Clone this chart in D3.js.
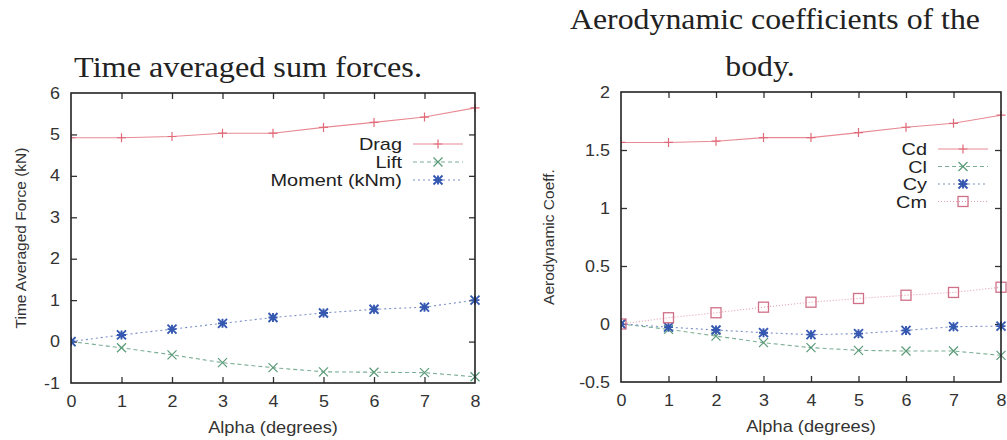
<!DOCTYPE html>
<html><head><meta charset="utf-8">
<script src="https://cdn.jsdelivr.net/npm/d3@7"></script>
<style>
html,body{margin:0;padding:0;background:#fff;}
svg{display:block;}
</style></head>
<body>
<svg id="c" width="1007" height="440"></svg>
<script>
// ---- data ----
const alpha = [0,1,2,3,4,5,6,7,8];
// Left chart: time averaged sum forces (kN)
const drag   = [4.92,4.92,4.95,5.03,5.03,5.17,5.29,5.42,5.64];
const lift   = [0,-0.15,-0.32,-0.51,-0.63,-0.73,-0.74,-0.75,-0.85];
const moment = [0,0.16,0.30,0.44,0.58,0.69,0.78,0.83,1.0];
// Right chart: aerodynamic coefficients
const cd = [1.565,1.565,1.576,1.607,1.607,1.65,1.696,1.73,1.80];
const cl = [0,-0.046,-0.104,-0.161,-0.204,-0.227,-0.233,-0.233,-0.27];
const cy = [0,-0.027,-0.052,-0.075,-0.092,-0.083,-0.055,-0.023,-0.018];
const cm = [0,0.054,0.097,0.145,0.188,0.22,0.248,0.272,0.317];

const xTicks = [0,1,2,3,4,5,6,7,8];
const leftYTicks = [-1,0,1,2,3,4,5,6];
const rightYTicks = [-0.5,0,0.5,1,1.5,2];

const svg = d3.select("#c");
const SANS = "'Liberation Sans', Arial, sans-serif";
const SERIF = "'Liberation Serif', 'DejaVu Serif', serif";
const fmtNum = d => String(d); // plain hyphen-minus as in the reference

function marker(g, type, x, y, color){
  const s = 4.5;
  if(type==="plus"){
    g.append("path").attr("d",`M${x-s},${y}H${x+s}M${x},${y-s}V${y+s}`).attr("stroke",color).attr("stroke-width",1.2).attr("fill","none");
  } else if(type==="cross"){
    g.append("path").attr("d",`M${x-s},${y-s}L${x+s},${y+s}M${x-s},${y+s}L${x+s},${y-s}`).attr("stroke",color).attr("stroke-width",1.2).attr("fill","none");
  } else if(type==="star"){
    g.append("path").attr("d",`M${x-s},${y}H${x+s}M${x},${y-s}V${y+s}M${x-s},${y-s}L${x+s},${y+s}M${x-s},${y+s}L${x+s},${y-s}`).attr("stroke",color).attr("stroke-width",1.9).attr("fill","none");
  } else if(type==="square"){
    g.append("rect").attr("x",x-s-0.5).attr("y",y-s-0.5).attr("width",2*s+1).attr("height",2*s+1).attr("stroke",color).attr("stroke-width",1.3).attr("fill","none");
  }
}

function stretchedText(g, x, y, txt, size, sx, anchor, fam, fill){
  return g.append("text").attr("transform",`translate(${x},${y}) scale(${sx},1)`)
    .attr("text-anchor",anchor).attr("font-family",fam).attr("font-size",size).attr("fill",fill).text(txt);
}

function chart(opt){
  const {x0,x1,y0,y1,ydom,yticks,series,legendX,legendY,legendDy,ylabel,ylabelX} = opt;
  const x = d3.scaleLinear().domain([0,8]).range([x0,x1]);
  const y = d3.scaleLinear().domain(ydom).range([y1,y0]);
  const g = svg.append("g");
  const clipId = "clip"+x0;
  svg.append("clipPath").attr("id",clipId).append("rect").attr("x",x0).attr("y",y0-6).attr("width",x1-x0+6).attr("height",y1-y0+12);

  const tl = 6;
  const axB = d3.axisBottom(x).tickValues(xTicks).tickSize(tl).tickFormat(fmtNum);
  const axL = d3.axisLeft(y).tickValues(yticks).tickSize(tl).tickFormat(fmtNum);
  const gb = g.append("g").attr("transform",`translate(0,${y1})`).call(axB);
  gb.selectAll(".tick line").attr("y2",-tl).attr("stroke","#333").attr("stroke-width",1.3);
  gb.selectAll(".tick text").attr("dy",null).attr("y",0).attr("transform","translate(0,24) scale(1.12,1)")
    .attr("font-family",SANS).attr("font-size",16).attr("fill","#333");
  const gt = g.append("g").attr("transform",`translate(0,${y0})`).call(d3.axisTop(x).tickValues(xTicks).tickSize(tl).tickFormat(""));
  gt.selectAll(".tick line").attr("y2",tl).attr("stroke","#333").attr("stroke-width",1.3);
  const gl = g.append("g").attr("transform",`translate(${x0},0)`).call(axL);
  gl.selectAll(".tick line").attr("x2",tl).attr("stroke","#333").attr("stroke-width",1.3);
  gl.selectAll(".tick text").attr("x",0).attr("transform","translate(-11,0) scale(1.12,1)")
    .attr("font-family",SANS).attr("font-size",16).attr("fill","#333");
  const gr = g.append("g").attr("transform",`translate(${x1},0)`).call(d3.axisRight(y).tickValues(yticks).tickSize(tl).tickFormat(""));
  gr.selectAll(".tick line").attr("x2",-tl).attr("stroke","#333").attr("stroke-width",1.3);
  [gb,gt,gl,gr].forEach(a=>a.select(".domain").remove());
  [gb,gt].forEach(a=>a.selectAll(".tick").filter(d=>d===0||d===8).select("line").remove());
  [gl,gr].forEach(a=>a.selectAll(".tick").filter(d=>d===ydom[0]||d===ydom[1]).select("line").remove());

  const plot = g.append("g").attr("clip-path",`url(#${clipId})`);
  series.forEach((s,i)=>{
    const line = d3.line().x((d,j)=>x(alpha[j])).y(d=>y(d));
    plot.append("path").datum(s.values).attr("d",line).attr("fill","none")
      .attr("stroke",s.lineColor).attr("stroke-width",1.1).attr("stroke-dasharray",s.dash);
    s.values.forEach((v,j)=>marker(plot,s.marker,x(alpha[j]),y(v),s.color));
    const ly = legendY + i*legendDy;
    stretchedText(g, legendX, ly+6, s.name, 17, 1.17, "end", SANS, "#222");
    g.append("line").attr("x1",legendX+11).attr("x2",legendX+61).attr("y1",ly).attr("y2",ly)
      .attr("stroke",s.lineColor).attr("stroke-width",1.1).attr("stroke-dasharray",s.dash);
    marker(g,s.marker,legendX+36,ly,s.color);
  });

  g.append("rect").attr("x",x0).attr("y",y0).attr("width",x1-x0).attr("height",y1-y0)
    .attr("fill","none").attr("stroke","#222").attr("stroke-width",1.6);

  stretchedText(g, (x0+x1)/2, y1+50, "Alpha (degrees)", 16, 1.14, "middle", SANS, "#333");
  g.append("text").attr("transform",`translate(${ylabelX},${(y0+y1)/2}) rotate(-90)`).attr("text-anchor","middle")
    .attr("font-family",SANS).attr("font-size",15.5).attr("fill","#333").text(ylabel);
}

chart({
  x0:71, x1:475, y0:93, y1:383, ydom:[-1,6], yticks:leftYTicks,
  legendX:402, legendY:144, legendDy:18, ylabel:"Time Averaged Force (kN)", ylabelX:26,
  series:[
    {name:"Drag", values:drag, marker:"plus", color:"#e06a78", lineColor:"#e88a94", dash:null},
    {name:"Lift", values:lift, marker:"cross", color:"#5a9a78", lineColor:"#7aae94", dash:"4,3"},
    {name:"Moment (kNm)", values:moment, marker:"star", color:"#3558b0", lineColor:"#7a90c8", dash:"2,3"}
  ]
});

chart({
  x0:621, x1:1001, y0:92, y1:382, ydom:[-0.5,2], yticks:rightYTicks,
  legendX:927, legendY:149, legendDy:17.5, ylabel:"Aerodynamic Coeff.", ylabelX:554,
  series:[
    {name:"Cd", values:cd, marker:"plus", color:"#e06a78", lineColor:"#e88a94", dash:null},
    {name:"Cl", values:cl, marker:"cross", color:"#5a9a78", lineColor:"#7aae94", dash:"4,3"},
    {name:"Cy", values:cy, marker:"star", color:"#3558b0", lineColor:"#7a90c8", dash:"2,3"},
    {name:"Cm", values:cm, marker:"square", color:"#d07088", lineColor:"#e0a0b0", dash:"1,2"}
  ]
});

// titles
stretchedText(svg, 248, 77, "Time averaged sum forces.", 30, 1.075, "middle", SERIF, "#222");
stretchedText(svg, 775, 29, "Aerodynamic coefficients of the", 30, 1.06, "middle", SERIF, "#222");
stretchedText(svg, 760, 76, "body.", 30, 1.06, "middle", SERIF, "#222");
</script>
</body></html>
